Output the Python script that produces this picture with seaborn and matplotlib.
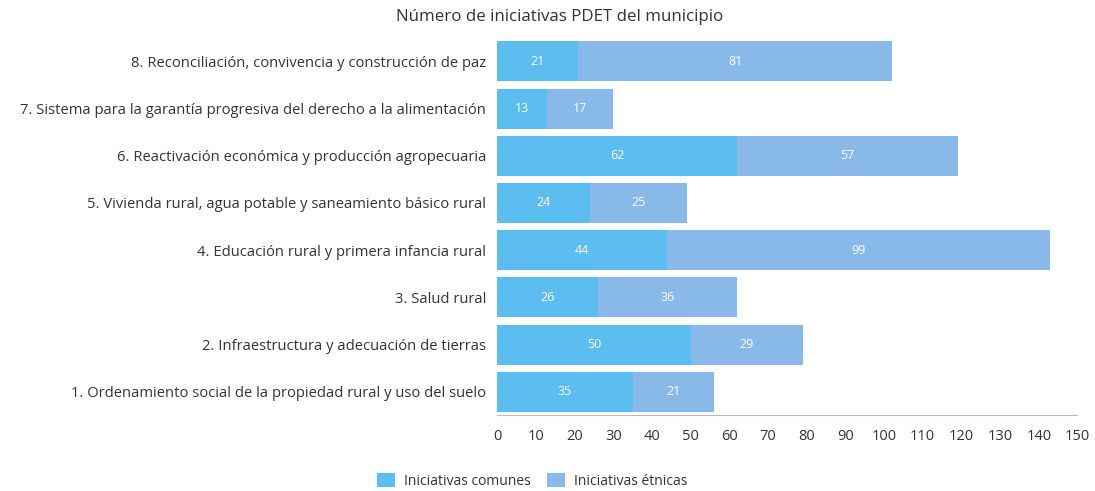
import matplotlib.pyplot as plt
import numpy as np
import pandas as pd
import seaborn as sns

sns.set_style("white")
plt.rcParams["font.family"] = ["Open Sans", "DejaVu Sans"]

# Data (top to bottom as shown)
pillars = [
    "8. Reconciliación, convivencia y construcción de paz",
    "7. Sistema para la garantía progresiva del derecho a la alimentación",
    "6. Reactivación económica y producción agropecuaria",
    "5. Vivienda rural, agua potable y saneamiento básico rural",
    "4. Educación rural y primera infancia rural",
    "3. Salud rural",
    "2. Infraestructura y adecuación de tierras",
    "1. Ordenamiento social de la propiedad rural y uso del suelo",
]
comunes = [21, 13, 62, 24, 44, 26, 50, 35]
etnicas = [81, 17, 57, 25, 99, 36, 29, 21]

df = pd.DataFrame({"pilar": pillars, "comunes": comunes, "etnicas": etnicas})
df["total"] = df["comunes"] + df["etnicas"]

c_com = "#5cbdf0"
c_etn = "#88b9e8"

fig, ax = plt.subplots(figsize=(10.95, 4.91), dpi=100)
fig.subplots_adjust(left=0.454, right=0.984, top=0.923, bottom=0.154)

sns.barplot(data=df, x="total", y="pilar", color=c_etn, width=0.85,
            saturation=1, linewidth=0, ax=ax, label="Iniciativas étnicas")
sns.barplot(data=df, x="comunes", y="pilar", color=c_com, width=0.85,
            saturation=1, linewidth=0, ax=ax, label="Iniciativas comunes")

# segment labels
etn_cont, com_cont = ax.containers[0], ax.containers[1]
for bar, v in zip(com_cont, comunes):
    ax.text(bar.get_x() + bar.get_width() / 2, bar.get_y() + bar.get_height() / 2,
            str(v), color="white", ha="center", va="center", fontsize=9)
for bar, c, v in zip(etn_cont, comunes, etnicas):
    ax.text(c + v / 2, bar.get_y() + bar.get_height() / 2,
            str(v), color="white", ha="center", va="center", fontsize=9)

ax.set_xlim(0, 150)
ax.set_xticks(np.arange(0, 151, 10))
ax.set_xlabel("")
ax.set_ylabel("")
ax.tick_params(axis="x", labelsize=10.5, colors="#333333", length=0, pad=10)
ax.tick_params(axis="y", labelsize=10.6, colors="#333333", length=0, pad=8)

for s in ["top", "right", "left"]:
    ax.spines[s].set_visible(False)
ax.spines["bottom"].set_color("#bbbbbb")
ax.spines["bottom"].set_linewidth(0.8)

fig.text(0.511, 0.965, "Número de iniciativas PDET del municipio", fontsize=12.2,
         color="#333333", ha="center", va="center")

handles, labels = ax.get_legend_handles_labels()
order = [labels.index("Iniciativas comunes"), labels.index("Iniciativas étnicas")]
ax.legend([handles[i] for i in order], [labels[i] for i in order],
          loc="center", bbox_to_anchor=(0.486, 0.02), bbox_transform=fig.transFigure,
          ncol=2, frameon=False, fontsize=10, handlelength=1.3, handleheight=1.1,
          columnspacing=1.2, handletextpad=0.6, labelcolor="#333333")

plt.savefig("out.png", dpi=100)
